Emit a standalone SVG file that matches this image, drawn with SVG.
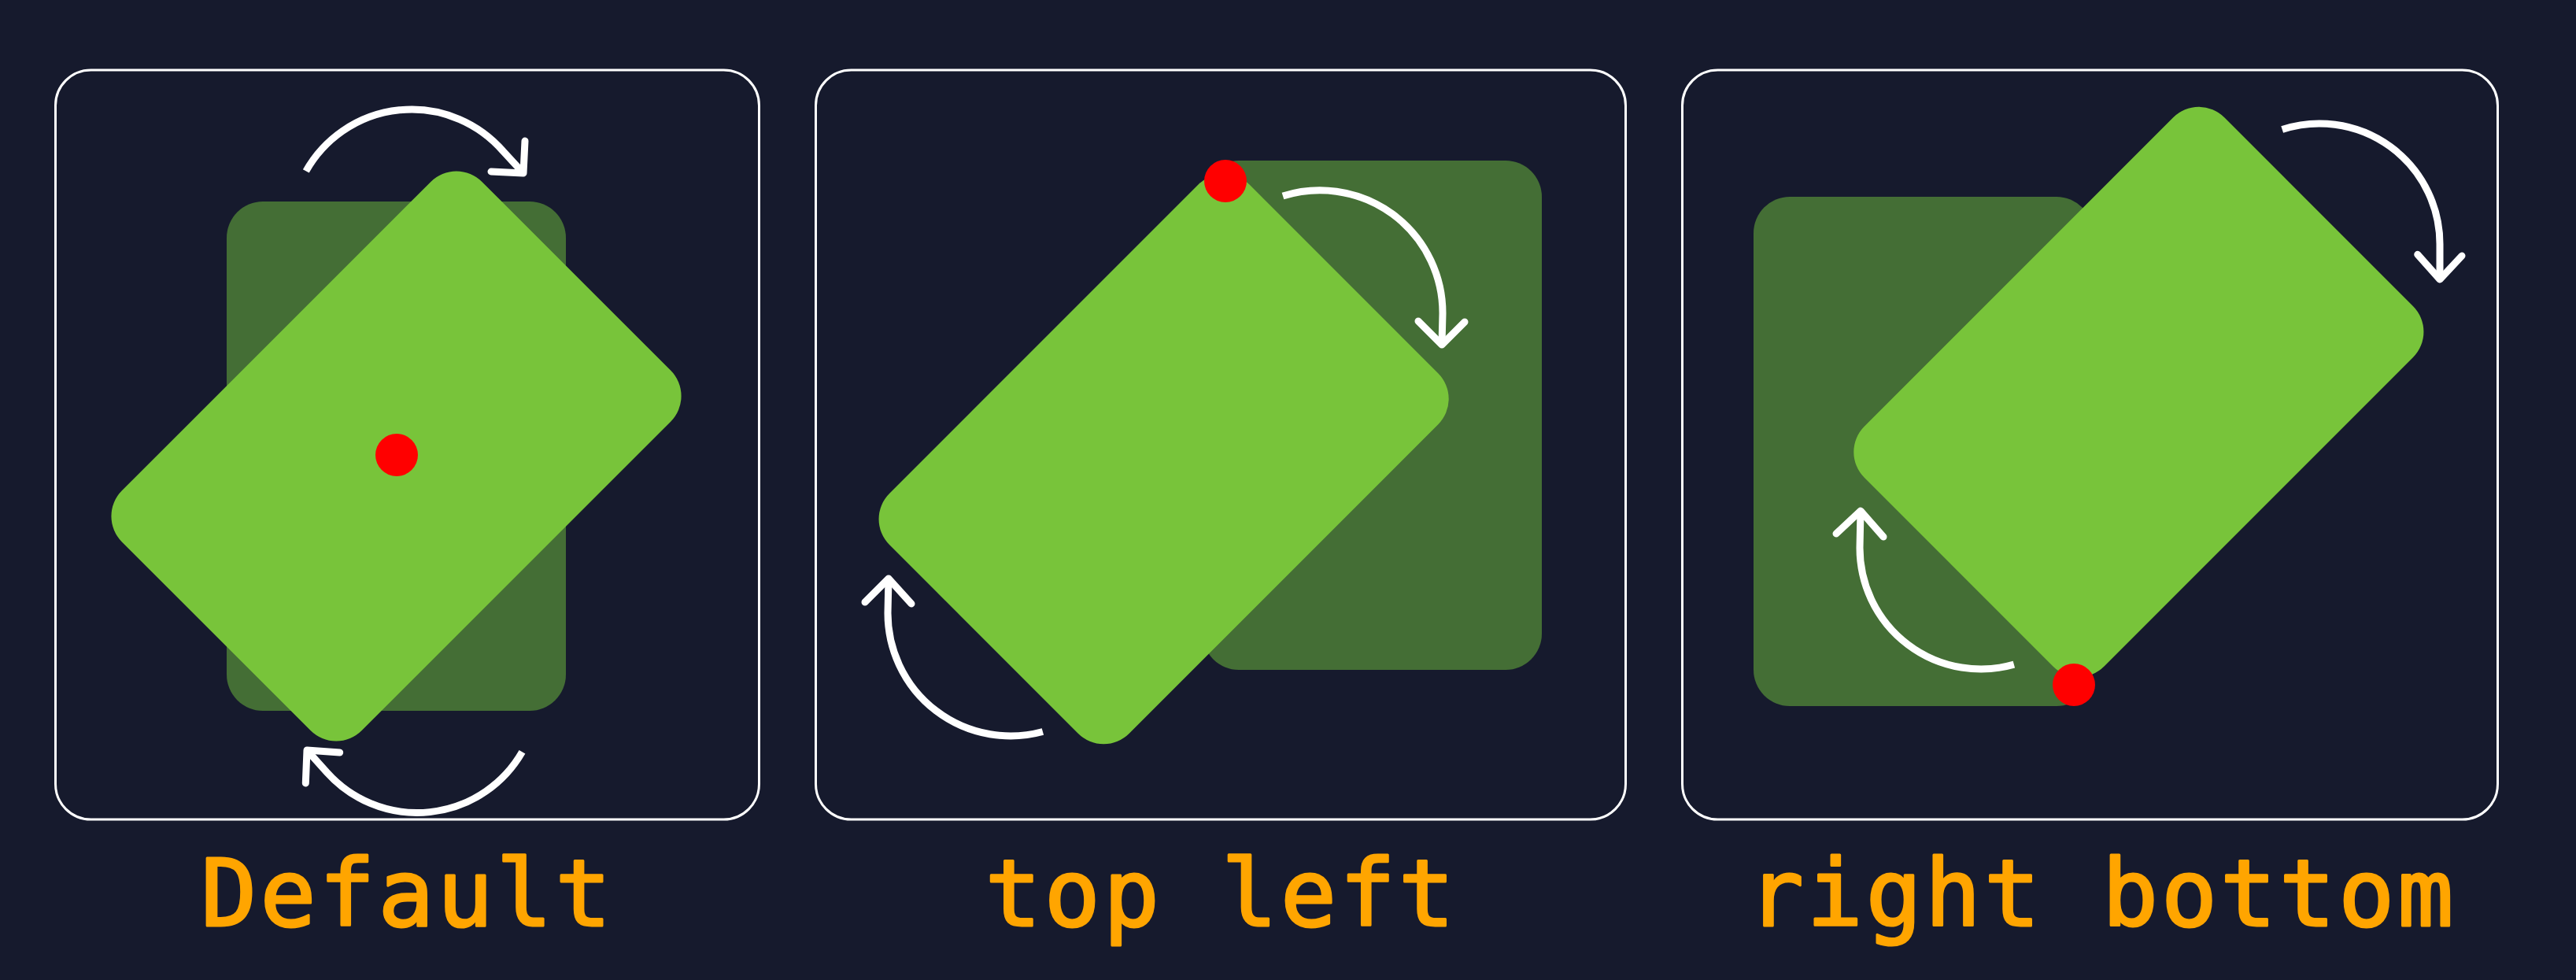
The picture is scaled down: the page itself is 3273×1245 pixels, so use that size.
<svg xmlns="http://www.w3.org/2000/svg" width="3273" height="1245" viewBox="0 0 3273 1245">
  <style>
    .frame { fill: none; stroke: #ffffff; stroke-width: 3; }
    .base { fill: #446e35; }
    .card { fill: #78c43a; }
    .pivot { fill: #ff0000; }
    .shaft { fill: none; stroke: #ffffff; stroke-width: 9; stroke-linecap: butt; }
    .head { fill: none; stroke: #ffffff; stroke-width: 9; stroke-linecap: round; stroke-linejoin: round; }
    .label { font-family: "DejaVu Sans Mono", "Liberation Mono", monospace; font-size: 118px; fill: #ffa500; stroke: #ffa500; stroke-width: 3px; stroke-linejoin: round; text-anchor: middle; letter-spacing: 4px; }
  </style>
  <rect x="0" y="0" width="3273" height="1245" fill="#161a2d"/>

  <g id="panel-default">
    <rect class="frame" x="70.5" y="89" width="894" height="952" rx="45"/>
    <rect class="base" x="288" y="256" width="431" height="647" rx="46"/>
    <rect class="card" x="288" y="256" width="431" height="647" rx="46" transform="rotate(45 503.5 579.5)"/>
    <circle class="pivot" cx="504" cy="578" r="27"/>
    <text class="label" x="518" y="1176">Default</text>
  </g>

  <g id="panel-top-left">
    <rect class="frame" x="1036.5" y="89" width="1029" height="952" rx="45"/>
    <rect class="base" x="1528" y="204" width="431" height="647" rx="46"/>
    <rect class="card" x="1555" y="202" width="431" height="647" rx="46" transform="rotate(45 1555 202)"/>
    <circle class="pivot" cx="1557" cy="230" r="27"/>
    <text class="label" x="1552" y="1176">top left</text>
  </g>

  <g id="panel-right-bottom">
    <rect class="frame" x="2137.5" y="89" width="1036" height="952" rx="45"/>
    <rect class="base" x="2228" y="250" width="431" height="647" rx="46"/>
    <rect class="card" x="2210" y="232" width="431" height="647" rx="46" transform="rotate(45 2641 879)"/>
    <circle class="pivot" cx="2635" cy="870" r="27"/>
    <text class="label" x="2671" y="1176">right bottom</text>
  </g>

  <g id="connectors">
    <path class="shaft" d="M388.8 217.4 A154 154 0 0 1 639.2 192 L665 220"/>
    <path class="head" d="M667 179 L665 220 L624 218"/>
    <path class="shaft" d="M663.5 955.3 A154 154 0 0 1 415.6 981.5 L390 953"/>
    <path class="head" d="M431.7 956 L390 953 L388.3 995"/>

    <path class="shaft" d="M1630 249 A156 156 0 0 1 1833 398 L1832 438"/>
    <path class="head" d="M1802 408 L1832 438 L1861 409"/>
    <path class="shaft" d="M1324.9 929.5 A156 156 0 0 1 1128 779 L1129 735"/>
    <path class="head" d="M1099 765 L1129 735 L1158 767"/>

    <path class="shaft" d="M2899.7 164.5 A153 153 0 0 1 3100 310 L3100 355"/>
    <path class="head" d="M3071.7 323.3 L3100 355 L3128 325"/>
    <path class="shaft" d="M2558.9 844.2 A154 154 0 0 1 2363 696 L2364 649"/>
    <path class="head" d="M2333 678 L2364 649 L2393 682"/>
  </g>
</svg>
